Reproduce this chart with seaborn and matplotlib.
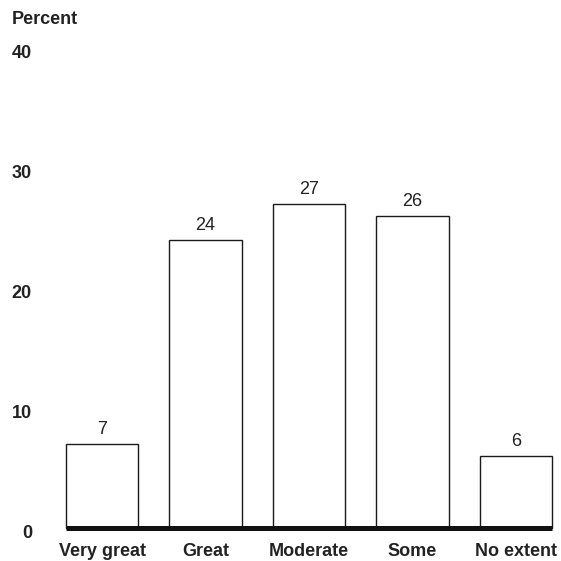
import matplotlib
matplotlib.use("Agg")
import matplotlib.pyplot as plt
import matplotlib.transforms as mtransforms
import seaborn as sns
import pandas as pd

# Survey responses: share of respondents by extent
categories = ["Very great", "Great", "Moderate", "Some", "No extent"]
percents = [7, 24, 27, 26, 6]
y_ticks = [0, 10, 20, 30, 40]

sns.set_theme(style="white")
plt.rcParams["font.family"] = ["Liberation Sans", "DejaVu Sans"]

df = pd.DataFrame({"extent": categories, "percent": percents})

fig = plt.figure(figsize=(5.61, 5.61), dpi=100)
ax = fig.add_axes([66 / 561, 33 / 561, 486 / 561, 480 / 561])

sns.barplot(data=df, x="extent", y="percent", ax=ax, color="white",
            edgecolor="#1a1a1a", linewidth=1.0, width=0.7, saturation=1)

for patch in ax.patches:
    patch.set_clip_on(False)

for container in ax.containers:
    ax.bar_label(container, labels=[str(v) for v in percents],
                 padding=4, fontsize=13, color="#222222")

ax.set_xlim(-0.35, len(categories) - 0.65)
ax.set_ylim(0, 40)
ax.set_yticks(y_ticks)
ax.set_yticklabels([str(t) for t in y_ticks])
ax.set_xlabel("")
ax.set_ylabel("")

for side in ["top", "right", "left"]:
    ax.spines[side].set_visible(False)
ax.spines["bottom"].set_linewidth(3.6)
ax.spines["bottom"].set_color("#111111")
ax.spines["bottom"].set_capstyle("butt")
ax.spines["bottom"].set_zorder(3)

ax.tick_params(axis="y", length=0, pad=24.5, labelsize=13)
ax.tick_params(axis="x", length=0, pad=10.5, labelsize=13)
for lbl in ax.get_yticklabels() + ax.get_xticklabels():
    lbl.set_fontweight("bold")
    lbl.set_color("#222222")

# nudge the y tick labels slightly below their gridline positions
shift = mtransforms.ScaledTranslation(0, -4 / 100, fig.dpi_scale_trans)
for lbl in ax.get_yticklabels():
    lbl.set_transform(lbl.get_transform() + shift)

fig.text(12 / 561, 1 - 20 / 561, "Percent", fontsize=13, fontweight="bold",
         color="#222222", ha="left", va="center")

fig.savefig("out.png", dpi=100, facecolor="white")
